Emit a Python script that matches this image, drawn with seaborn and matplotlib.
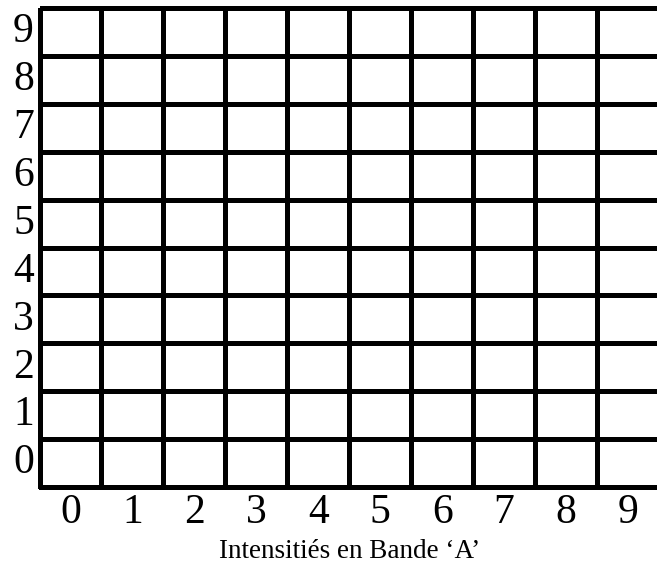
import numpy as np
import pandas as pd
import matplotlib
matplotlib.use('Agg')
import matplotlib.pyplot as plt
import seaborn as sns
from matplotlib.colors import ListedColormap

# Intensity levels on both bands
band_a = [0, 1, 2, 3, 4, 5, 6, 7, 8, 9]
band_b = [0, 1, 2, 3, 4, 5, 6, 7, 8, 9]
x_label = "Intensitiés en Bande \u2018A\u2019"

# empty grid, top row = highest level of band B
grid = pd.DataFrame(np.zeros((len(band_b), len(band_a))),
                    index=band_b[::-1], columns=band_a)

sns.set_style('white', {'text.color': 'black', 'axes.labelcolor': 'black',
                        'xtick.color': 'black', 'ytick.color': 'black'})
plt.rcParams['font.family'] = ['Liberation Serif', 'DejaVu Serif']

fig = plt.figure(figsize=(6.57, 5.68), dpi=100)
W, H = 657, 568
ax = fig.add_axes([39.5 / W, (H - 487) / H, (659 - 39.5) / W, (487 - 8) / H])

sns.heatmap(grid, ax=ax, cmap=ListedColormap(['white']), cbar=False,
            linewidths=2.5, linecolor='black', square=False)
ax.collections[0].set_clip_on(False)

ax.set_xticklabels(band_a, fontsize=30, rotation=0, color='black')
ax.set_yticklabels(band_b[::-1], fontsize=30, rotation=0, color='black')
ax.tick_params(axis='both', length=0)
ax.tick_params(axis='x', pad=5)
ax.tick_params(axis='y', pad=4)
ax.set_xlabel(x_label, fontsize=19.5, labelpad=5, color='black')
ax.set_ylabel('')

fig.savefig('out.png', dpi=100)
